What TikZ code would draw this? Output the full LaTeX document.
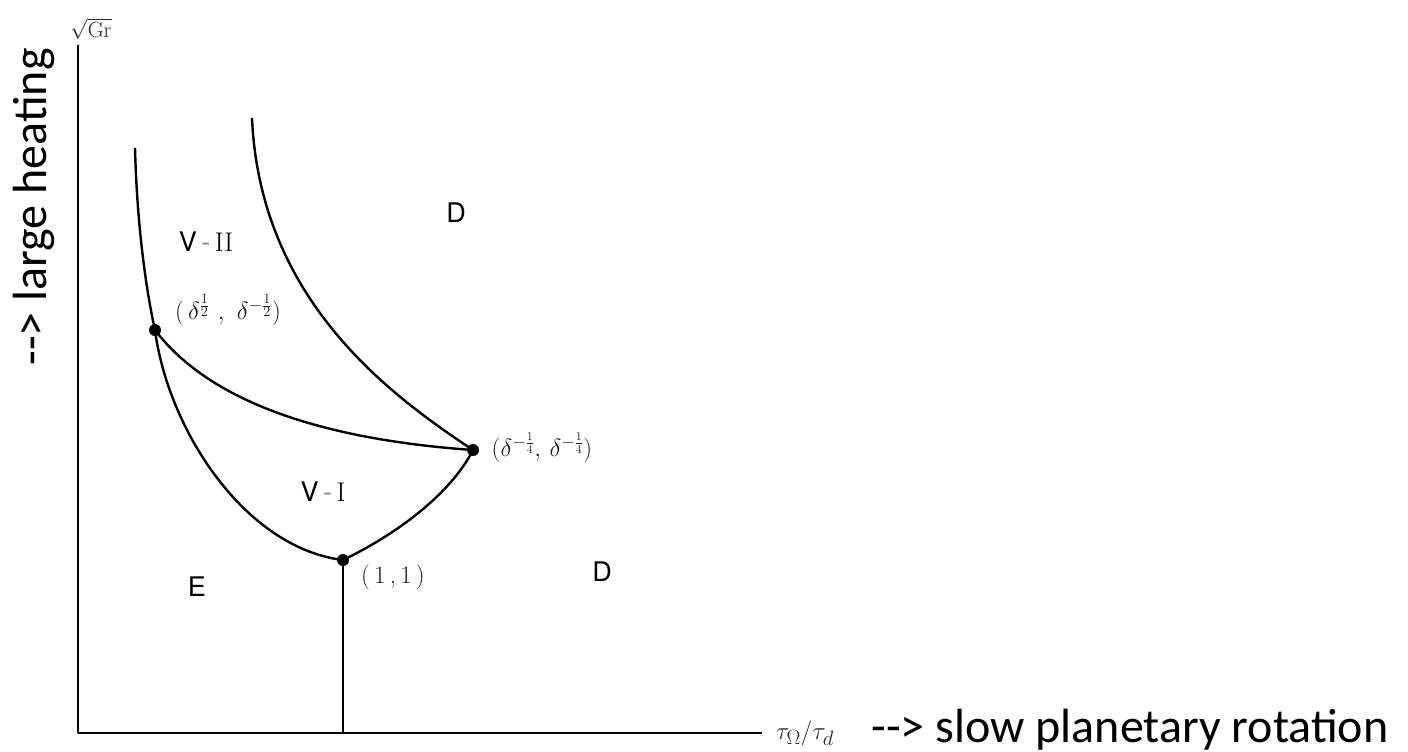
\documentclass[tikz,border=0pt]{standalone}
\usepackage{fontspec}
\newfontfamily\heros{TeX Gyre Heros}
\newfontfamily\carl{Carlito}
\begin{document}
\begin{tikzpicture}[x=1pt,y=-1pt,
  curve/.style={line width=2.4pt, line join=round},
  dot/.style={circle,fill,inner sep=0pt,minimum size=12pt},
  region/.style={font=\heros\fontsize{27}{30}\selectfont, text=black},
  pt/.style={font=\fontsize{25}{28}\selectfont, text=black!90},
  big/.style={font=\carl\fontsize{48}{56}\selectfont}]
\useasboundingbox (0,0) rectangle (1408,752);
% axes
\coordinate (ytop) at (78,45);
\coordinate (o) at (78,733);
\coordinate (xend) at (762,733);
\coordinate (pb) at (343,733);
\coordinate (lt) at (135,148);
\coordinate (rt) at (252,118);
\node[dot] (p1) at (155,330) {};
\node[dot] (p3) at (473,450) {};
\node[dot] (p2) at (343,560) {};
\draw[curve] (ytop) -- (o) -- (xend);
\draw[curve] (p2.center) -- (pb);
% curves
\draw[curve] (lt) .. controls (137,225) and (146,290) .. (p1.center)
  .. controls (168,430) and (245,548) .. (p2.center);
\draw[curve] (rt) .. controls (260,300) and (390,395) .. (p3.center);
\draw[curve] (p1.center) .. controls (212,405) and (330,440) .. (p3.center);
\draw[curve] (p2.center) .. controls (395,535) and (450,495) .. (p3.center);
% region labels
\node[region] (D1) at (456,213) {D};
\node[region] (D2) at (602,572) {D};
\node[region] (E) at (197,587) {E};
\node[region] (V2) at (206,242) {V\,{\color{black!45}-}\,{\rmfamily II}};
\node[region] (V1) at (323,492) {V\,{\color{black!45}-}\,{\rmfamily I}};
% point labels
\node[pt] (l11) at (393,577) {(\,1\,,\,1\,)};
\node[pt, font=\fontsize{27}{30}\selectfont] (lp1) at (228,310) {$(\,\delta^{\frac{1}{2}}\ ,\ \delta^{-\frac{1}{2}})$};
\node[pt, font=\fontsize{26}{30}\selectfont] (lp3) at (542,448) {$(\delta^{-\frac{1}{4}},\,\delta^{-\frac{1}{4}})$};
% axis labels
\node[font=\fontsize{22}{26}\selectfont, text=black!85] (gr) at (91,29) {$\sqrt{\mathrm{Gr}}$};
\node[font=\fontsize{28}{32}\selectfont, text=black!85] (tau) at (805,733) {$\tau_\Omega/\tau_d$};
\node[big, anchor=base west] (xl) at (868,742) {-{}-{}> slow planetary rotation};
\node[big, anchor=base, rotate=90] (yl) at (46,207) {-{}-{}> large heating};
\end{tikzpicture}
\end{document}
